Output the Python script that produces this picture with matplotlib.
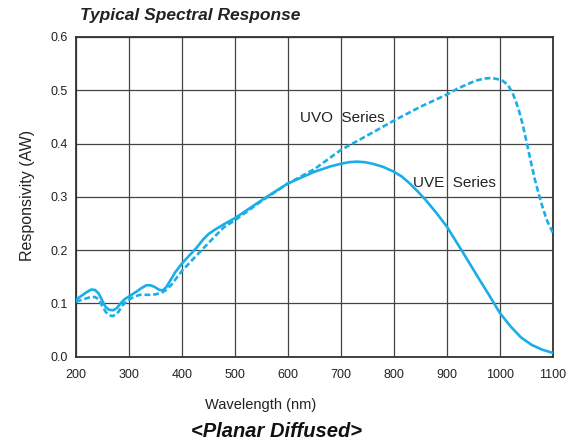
import numpy as np
import matplotlib.pyplot as plt

plt.rcParams['font.family'] = ['Liberation Sans', 'DejaVu Sans']

# UVE series (solid)
uve_nm = [200, 210, 220, 229, 236, 243, 250, 256, 262, 270, 277, 284, 292, 300, 314,
          324, 333, 340, 348, 356, 363, 370, 378, 387, 400, 414, 428, 440, 450, 460,
          480, 500, 530, 560, 600, 650, 680, 700, 715, 730, 745, 760, 780, 800, 815,
          830, 845, 860, 880, 900, 930, 960, 980, 1000, 1020, 1040, 1060, 1080, 1100]
uve_val = [0.107, 0.114, 0.121, 0.126, 0.125, 0.118, 0.104, 0.093, 0.088, 0.087, 0.091,
           0.100, 0.108, 0.113, 0.122, 0.129, 0.134, 0.134, 0.131, 0.126, 0.124, 0.130,
           0.143, 0.158, 0.175, 0.190, 0.205, 0.220, 0.230, 0.237, 0.249, 0.260, 0.280,
           0.300, 0.325, 0.347, 0.357, 0.362, 0.365, 0.366, 0.365, 0.362, 0.356, 0.347,
           0.338, 0.325, 0.310, 0.294, 0.270, 0.244, 0.196, 0.147, 0.115, 0.082, 0.057,
           0.036, 0.022, 0.013, 0.007]

# UVO series (dashed)
uvo_nm = [200, 212, 225, 236, 243, 250, 256, 262, 268, 274, 280, 287, 295, 305, 320,
          345, 360, 370, 380, 390, 400, 440, 478, 500, 550, 600, 650, 700, 755, 800,
          850, 900, 920, 940, 955, 970, 985, 995, 1005, 1015, 1023, 1030, 1036, 1042,
          1050, 1058, 1066, 1074, 1082, 1090, 1100]
uvo_val = [0.103, 0.107, 0.111, 0.112, 0.107, 0.094, 0.084, 0.078, 0.076, 0.078, 0.084,
           0.095, 0.104, 0.110, 0.116, 0.116, 0.119, 0.125, 0.135, 0.148, 0.161, 0.203,
           0.242, 0.256, 0.292, 0.325, 0.352, 0.388, 0.418, 0.443, 0.469, 0.492, 0.503,
           0.512, 0.518, 0.522, 0.523, 0.521, 0.518, 0.510, 0.497, 0.480, 0.462, 0.440,
           0.405, 0.368, 0.333, 0.303, 0.276, 0.253, 0.233]

x_ticks = list(range(200, 1101, 100))
y_ticks = [0.0, 0.1, 0.2, 0.3, 0.4, 0.5, 0.6]

blue = '#1aaee8'
ink = '#222222'

fig = plt.figure(figsize=(5.85, 4.43), dpi=100)
ax = fig.add_axes([0.130, 0.195, 0.815, 0.7215])

ax.plot(uve_nm, uve_val, color=blue, lw=1.9, solid_joinstyle='round', zorder=3)
ax.plot(uvo_nm, uvo_val, color=blue, lw=1.9, linestyle=(0, (2.2, 1.1)), zorder=3)

ax.set_xlim(200, 1100)
ax.set_ylim(0, 0.6)
ax.set_xticks(x_ticks)
ax.set_yticks(y_ticks)
ax.set_yticklabels(['%.1f' % v for v in y_ticks])
ax.tick_params(length=0, labelsize=9, colors=ink)
ax.tick_params(axis='x', pad=9)
ax.tick_params(axis='y', pad=6)
ax.grid(True, color='#444444', lw=0.9)
ax.set_axisbelow(True)
for s in ax.spines.values():
    s.set_color('#333333')
    s.set_linewidth(1.3)

ax.text(623, 0.447, 'UVO  Series', fontsize=11, color=ink, va='center')
ax.text(836, 0.325, 'UVE  Series', fontsize=11, color=ink, va='center')

ax.set_xlabel('Wavelength (nm)', fontsize=10.5, color=ink)
ax.xaxis.set_label_coords(0.388, -0.128)
ax.set_ylabel('Responsivity (AW)', fontsize=11.5, color=ink)
ax.yaxis.set_label_coords(-0.086, 0.504)

fig.text(0.137, 0.966, 'Typical Spectral Response', fontsize=12.5, fontweight='bold',
         fontstyle='italic', color=ink, va='center')
fig.text(0.472, 0.025, '<Planar Diffused>', fontsize=14.5, fontweight='bold',
         fontstyle='italic', color='#111111', ha='center', va='center')

fig.savefig('out.png', dpi=100)
